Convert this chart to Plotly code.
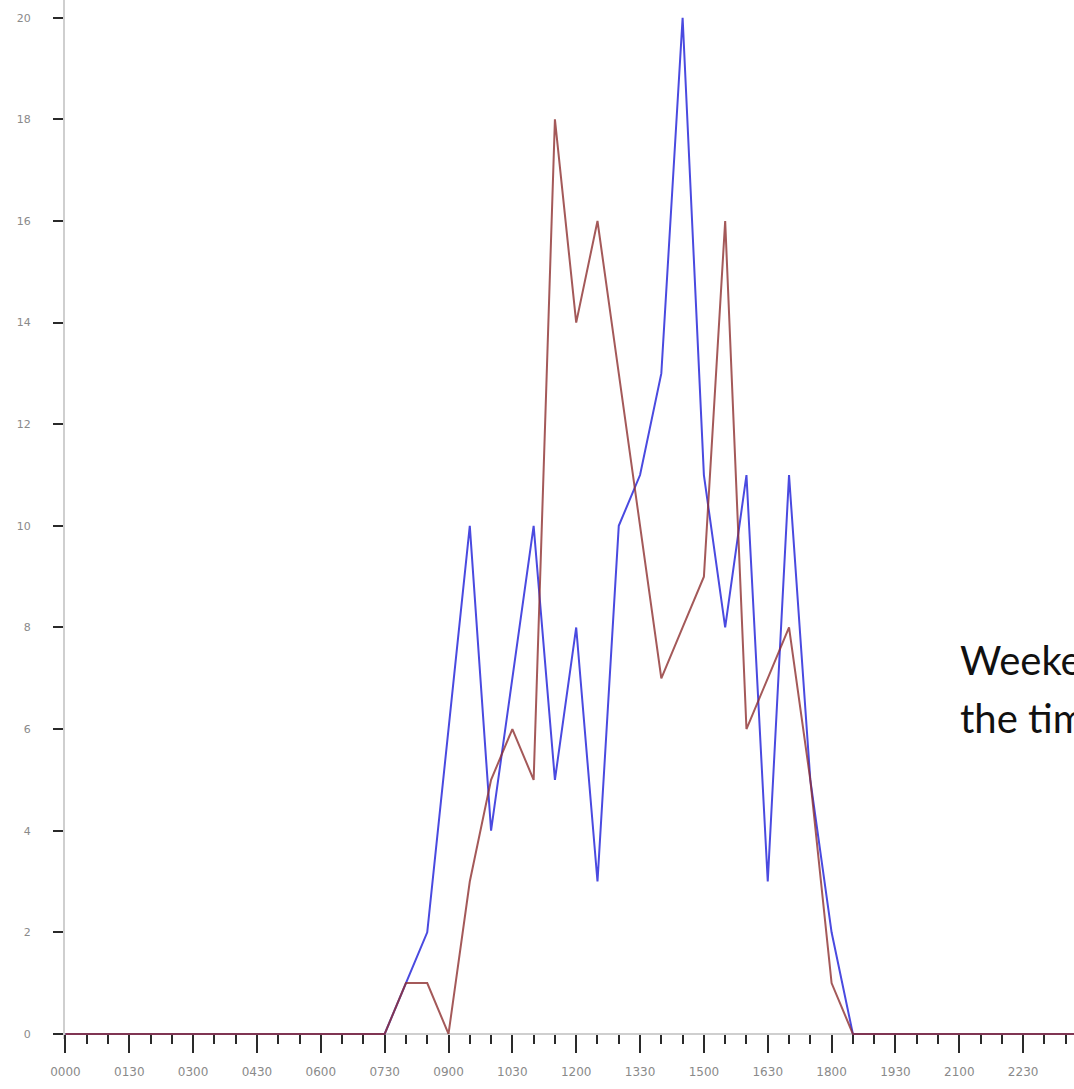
import plotly.graph_objects as go

# Half-hour time slots (0000 .. 2400)
time_labels = ["0000", "0030", "0100", "0130", "0200", "0230", "0300", "0330",
               "0400", "0430", "0500", "0530", "0600", "0630", "0700", "0730",
               "0800", "0830", "0900", "0930", "1000", "1030", "1100", "1130",
               "1200", "1230", "1300", "1330", "1400", "1430", "1500", "1530",
               "1600", "1630", "1700", "1730", "1800", "1830", "1900", "1930",
               "2000", "2030", "2100", "2130", "2200", "2230", "2300", "2330",
               "2400"]

blue_series = [0, 0, 0, 0, 0, 0, 0, 0, 0, 0, 0, 0, 0, 0, 0, 0,
               1, 2, 6, 10, 4, 7, 10, 5, 8, 3, 10, 11, 13, 20, 11, 8,
               11, 3, 11, 5, 2, 0, 0, 0, 0, 0, 0, 0, 0, 0, 0, 0, 0]

red_series = [0, 0, 0, 0, 0, 0, 0, 0, 0, 0, 0, 0, 0, 0, 0, 0,
              1, 1, 0, 3, 5, 6, 5, 18, 14, 16, 13, 10, 7, 8, 9, 16,
              6, 7, 8, 5, 1, 0, 0, 0, 0, 0, 0, 0, 0, 0, 0, 0, 0]

y_ticks = [0, 2, 4, 6, 8, 10, 12, 14, 16, 18, 20]

note_lines = ["Weekends are", "the time when"]

slots = list(range(len(time_labels)))
major_idx = slots[::3]

fig = go.Figure()
fig.add_trace(go.Scatter(x=slots, y=blue_series, mode="lines",
                         line=dict(color="#4a4ae0", width=2), showlegend=False))
fig.add_trace(go.Scatter(x=slots, y=red_series, mode="lines",
                         line=dict(color="#8e3030", width=2), opacity=0.8,
                         showlegend=False))

x_font = dict(family="DejaVu Sans", size=12, color="#8a8a8a")
y_font = dict(family="DejaVu Sans", size=11, color="#8a8a8a")

fig.update_layout(
    width=1074, height=1089,
    margin=dict(l=65, r=0, t=0, b=50),
    paper_bgcolor="white", plot_bgcolor="white",
    showlegend=False,
    xaxis=dict(
        range=[-0.02, 47.39],
        anchor="free", position=0.0048,
        layer="below traces",
        showgrid=False, zeroline=False,
        showline=True, linecolor="#cfcfcf", linewidth=2,
        tickmode="array", tickvals=major_idx,
        ticktext=[time_labels[i] for i in major_idx],
        ticks="outside", ticklen=18, tickwidth=2, tickcolor="#2a2a2a",
        ticklabelstandoff=9,
        minor=dict(tickvals=slots, ticks="outside", ticklen=9, tickwidth=2,
                   tickcolor="#2a2a2a", showgrid=False),
        tickfont=x_font,
    ),
    yaxis=dict(
        range=[-0.1, 20.35],
        layer="below traces",
        showgrid=False, zeroline=False,
        showline=True, linecolor="#cfcfcf", linewidth=2,
        tickmode="array", tickvals=y_ticks,
        ticks="outside", ticklen=10, tickwidth=2, tickcolor="#2a2a2a",
        ticklabelstandoff=20,
        tickfont=y_font,
    ),
    annotations=[
        dict(text=note_lines[0], xref="paper", yref="paper",
             x=0.885, y=0.3395, xanchor="left", yanchor="bottom",
             showarrow=False, align="left",
             font=dict(family="Lato", size=40, color="#111111")),
        dict(text=note_lines[1], xref="paper", yref="paper",
             x=0.885, y=0.2835, xanchor="left", yanchor="bottom",
             showarrow=False, align="left",
             font=dict(family="Lato", size=40, color="#111111")),
    ],
)

fig.write_html("out.html",
               config={"displayModeBar": False},
               post_script="document.body.style.margin='0';document.body.style.overflow='hidden';")
